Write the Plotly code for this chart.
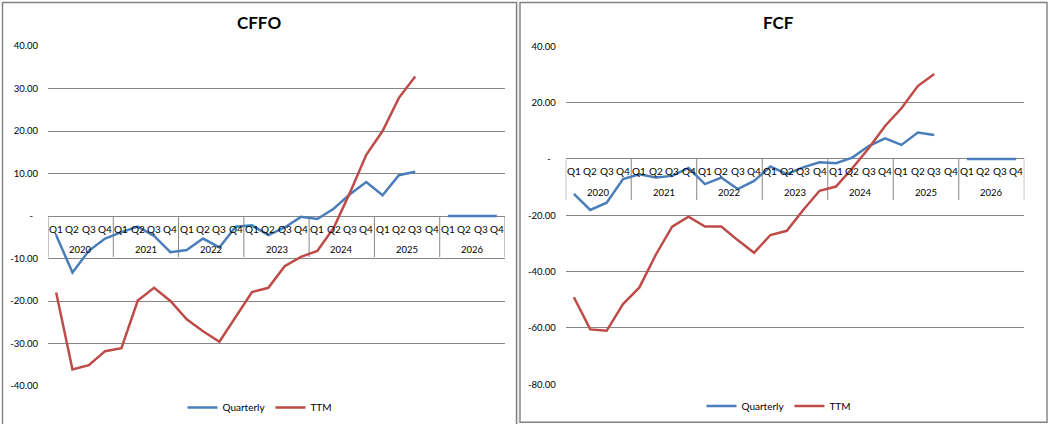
import plotly.graph_objects as go

W, H = 1048, 424

years = ["2020", "2021", "2022", "2023", "2024", "2025", "2026"]
quarters = ["Q1", "Q2", "Q3", "Q4"]
categories = [f"{y} {q}" for y in years for q in quarters]

cffo_quarterly = [-4.5, -13.3, -8.2, -5.3, -3.8, -2.5, -4.7, -8.5,
                  -8.0, -5.3, -7.4, -2.5, -2.2, -4.5, -2.7, -0.2,
                  -0.7, 1.7, 5.1, 8.0, 4.9, 9.6, 10.4, None,
                  0, 0, 0, 0]
cffo_ttm = [-18.0, -36.1, -35.1, -31.8, -31.1, -19.9, -16.9, -20.0,
            -24.3, -27.1, -29.6, -23.8, -17.9, -16.9, -11.8, -9.6,
            -8.2, -2.8, 5.5, 14.4, 20.0, 27.8, 32.8, None,
            None, None, None, None]
fcf_quarterly = [-12.4, -18.1, -15.5, -7.1, -5.4, -6.6, -6.0, -3.2,
                 -8.9, -6.6, -10.7, -7.8, -2.7, -5.4, -3.0, -1.2,
                 -1.5, 0.5, 4.6, 7.3, 5.0, 9.4, 8.5, None,
                 0, 0, 0, 0]
fcf_ttm = [-49.1, -60.5, -61.0, -51.5, -45.6, -34.0, -24.0, -20.5,
           -24.0, -24.0, -28.8, -33.3, -27.0, -25.5, -18.1, -11.3,
           -9.8, -3.3, 3.8, 11.7, 18.0, 25.9, 30.2, None,
           None, None, None, None]

cffo_ticks = [40, 30, 20, 10, 0, -10, -20, -30, -40]
fcf_ticks = [40, 20, 0, -20, -40, -60, -80]

BLUE = "#4A7EBB"
RED = "#BE4B48"
GRID = "#868686"
FONT = "Lato"


def fmt(v):
    return "-\u00a0\u00a0" if v == 0 else f"{v:.2f}"


def px(x):
    return x / W


def py(y):
    return 1 - y / H


fig = go.Figure()

charts = [
    dict(title="CFFO", q=cffo_quarterly, t=cffo_ttm, ticks=cffo_ticks, rng=[-40, 40], dtick=10,
         xd=[48, 505], yd=[386, 46], xa="x", ya="y", leg="legend", title_x=259, leg_x=260, leg_y=407.5),
    dict(title="FCF", q=fcf_quarterly, t=fcf_ttm, ticks=fcf_ticks, rng=[-80, 40], dtick=20,
         xd=[565.7, 1024.3], yd=[384.3, 46.3], xa="x2", ya="y2", leg="legend2", title_x=778, leg_x=779, leg_y=406),
]

shapes = []
annotations = []
layout = {}

for k, c in enumerate(charts):
    xs = list(range(len(categories)))
    fig.add_trace(go.Scatter(x=xs, y=c["q"], mode="lines", name="Quarterly",
                             line=dict(color=BLUE, width=2.5), connectgaps=False,
                             xaxis=c["xa"], yaxis=c["ya"], legend=c["leg"]))
    fig.add_trace(go.Scatter(x=xs, y=c["t"], mode="lines", name="TTM",
                             line=dict(color=RED, width=2.5), connectgaps=False,
                             xaxis=c["xa"], yaxis=c["ya"], legend=c["leg"]))
    sfx = "" if k == 0 else "2"
    layout["xaxis" + sfx] = dict(domain=[px(c["xd"][0]), px(c["xd"][1])], range=[-0.5, len(categories) - 0.5],
                                 showgrid=False, showticklabels=False, zeroline=False, showline=False,
                                 anchor=c["ya"], fixedrange=True, automargin=False)
    layout["yaxis" + sfx] = dict(domain=[py(c["yd"][0]), py(c["yd"][1])], range=c["rng"],
                                 tickvals=c["ticks"], ticktext=[fmt(v) for v in c["ticks"]],
                                 showgrid=True, gridcolor=GRID, gridwidth=1,
                                 zeroline=True, zerolinecolor=GRID, zerolinewidth=1,
                                 showline=False, ticks="", ticklabelstandoff=9,
                                 tickfont=dict(family=FONT, size=9.5, color="#000"),
                                 anchor=c["xa"], fixedrange=True, automargin=False)
    # quarter labels
    for i, cat in enumerate(categories):
        annotations.append(dict(x=i, y=0, xref=c["xa"], yref=c["ya"], text=cat.split(" ")[1],
                                showarrow=False, yshift=-12.5, yanchor="middle", xanchor="center",
                                font=dict(family=FONT, size=10, color="#000")))
    # year labels
    for j, yr in enumerate(years):
        annotations.append(dict(x=j * 4 + 1.5, y=0, xref=c["xa"], yref=c["ya"], text=yr,
                                showarrow=False, yshift=-33.5, yanchor="middle", xanchor="center",
                                font=dict(family=FONT, size=9.5, color="#000")))
    # dividers
    for j in range(len(years) + 1):
        shapes.append(dict(type="line", xref=c["xa"], yref=c["ya"], x0=j * 4 - 0.5, x1=j * 4 - 0.5,
                           ysizemode="pixel", yanchor=0, y0=0, y1=-41,
                           line=dict(color=GRID, width=1), layer="below"))
    # title
    annotations.append(dict(x=px(c["title_x"]), y=py(22), xref="paper", yref="paper", text=c["title"],
                            showarrow=False, xanchor="center", yanchor="middle",
                            font=dict(family=FONT, size=17, color="#000", weight="bold")))
    layout[c["leg"]] = dict(orientation="h", x=px(c["leg_x"]), y=py(c["leg_y"]), xanchor="center",
                            yanchor="middle", font=dict(family=FONT, size=10, color="#000"),
                            bgcolor="rgba(0,0,0,0)", itemwidth=30, tracegroupgap=0)

# spreadsheet cell line between charts
shapes.append(dict(type="line", xref="paper", yref="paper", x0=px(518), x1=px(518), y0=0, y1=1,
                   line=dict(color="#dadada", width=1), layer="below"))
# chart borders
shapes.append(dict(type="rect", xref="paper", yref="paper", x0=px(2.5), x1=px(516.5), y0=py(430), y1=py(2.5),
                   line=dict(color="#808080", width=1.4), fillcolor="rgba(0,0,0,0)", layer="above"))
shapes.append(dict(type="rect", xref="paper", yref="paper", x0=px(520), x1=px(1047), y0=py(422.3), y1=py(2.5),
                   line=dict(color="#808080", width=1.4), fillcolor="rgba(0,0,0,0)", layer="above"))

fig.update_layout(width=W, height=H, autosize=False,
                  margin=dict(l=0, r=0, t=0, b=0, pad=0, autoexpand=False),
                  paper_bgcolor="white", plot_bgcolor="white",
                  shapes=shapes, annotations=annotations, **layout)

fig.write_html("out.html", config={"displayModeBar": False, "responsive": False},
               post_script="document.body.style.margin='0';document.body.style.overflow='hidden';")
